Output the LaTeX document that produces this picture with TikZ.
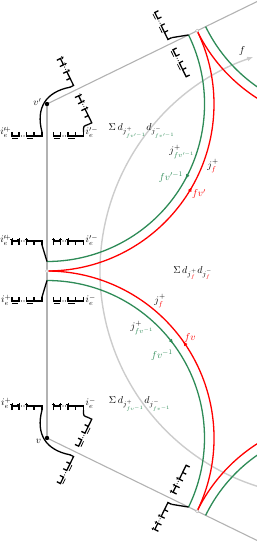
\documentclass[tikz,border=0pt]{standalone}
\usetikzlibrary{arrows.meta,decorations.markings}
\definecolor{grn}{RGB}{46,139,87}
\tikzset{
    every pic/.style={transform shape},
    combline/.style={black, line width=1.3pt},
    markline/.style={black, line width=0.7pt},
    redarc/.style={red, line width=1.3pt},
    grnarc/.style={grn, line width=1.3pt},
    frame/.style={gray!60, line width=1.1pt},
    fline/.style={gray!40, line width=1.4pt},
    midarrow/.style={postaction={decorate, decoration={markings,
        mark=at position #1 with {\arrow{Latex[length=5pt,width=4pt]}}}}},
    pics/combU/.style={code={
        \draw[combline] (0,4) |- (7,0) -- (7,4);
        \draw[combline] (14.5,4) |- (30,0) -- (30,4) (22,0) -- (22,4);
        \fill (9.5,0) circle (0.6) (12,0) circle (0.6);
        \draw[markline] (0.5,-2.3) -- (6.5,-2.3) (15,-2.3) -- (21.5,-2.3);
    }},
    pics/combP/.style={code={
        \draw[combline] (0,4) |- (7,0) -- (7,4);
        \draw[combline] (14.5,4) |- (30,0) -- (30,4) (22,0) -- (22,4);
        \fill (9.5,0) circle (0.6) (12,0) circle (0.6);
        \foreach \p in {0,7,14.5}
            \draw[markline] (\p,0) -- (\p,-3.5) (\p-1.5,-2) -- (\p+1.5,-2);
    }},
    pics/halfweb/.style 2 args={code={
        \pic at (-35,135) {#1};
        \pic at (6.5,135) {#1};
        \pic[yscale=-1] at (-35,30) {#2};
        \pic[yscale=-1] at (6.5,30) {#2};
        \draw[combline] (-5,26) -- (0,9.5);
        \draw[combline] (-5,139) .. controls (-11.4,163) and (-1.4,179) .. (23,183.8);
        \draw[combline] (36.5,139) .. controls (36.5,146) and (36.5,144.5) .. (41.2,146.5);
        \begin{scope}[shift={(0,167)}, cm={0.4384,-0.8988,-0.8988,-0.4384,(0,0)}]
            \pic at (-35,-32) {#2};
            \pic at (6.5,-32) {#2};
            \pic[yscale=-1] at (-35,-137) {#1};
            \pic[yscale=-1] at (6.5,-137) {#1};
            \draw[combline] (-5,-141) -- (0,-157.5);
        \end{scope}
    }},
}
\begin{document}
\begin{tikzpicture}[x=1pt, y=1pt, every node/.style={inner sep=1pt}]
    \clip (-47,-271) rectangle (210,271);
    \coordinate (c) at (0,0);
    \coordinate (vp) at (0,167);
    \coordinate (v) at (0,-167);
    \coordinate (j) at ([shift={(26:167)}]vp);
    \coordinate (jb) at ([shift={(-26:167)}]v);
    \coordinate (vpp) at ([shift={(26:334)}]vp);
    \coordinate (vb) at ([shift={(-26:334)}]v);
    \coordinate (fc) at (279,0);

    \draw[frame] (vp) -- (v);
    \draw[frame] (vp) -- ([shift={(26:260)}]vp);
    \draw[frame] (v) -- ([shift={(-26:260)}]v);
    \draw[fline, -{Latex[length=6pt,width=5pt]}] ([shift={(255:226)}]fc)
        arc[start angle=255, end angle=108.8, radius=226];

    \draw[redarc, midarrow=0.52] (c) arc[start angle=-90, end angle=26, radius=167];
    \draw[grnarc, midarrow=0.47] ([shift={(26:157.5)}]vp) arc[start angle=26, end angle=-90, radius=157.5];
    \draw[redarc, midarrow=0.53] (jb) arc[start angle=-26, end angle=90, radius=167];
    \draw[grnarc, midarrow=0.46] ([shift={(90:157.5)}]v) arc[start angle=90, end angle=-26, radius=157.5];
    \draw[redarc] (j) arc[start angle=206, end angle=245, radius=167];
    \draw[grnarc] ([shift={(206:157.5)}]vpp) arc[start angle=206, end angle=245, radius=157.5];
    \draw[redarc] (jb) arc[start angle=154, end angle=115, radius=167];
    \draw[grnarc] ([shift={(154:157.5)}]vb) arc[start angle=154, end angle=115, radius=157.5];

    \pic {halfweb={combU}{combP}};
    \pic[yscale=-1] {halfweb={combP}{combU}};
    \fill (vp) circle (2.2) (v) circle (2.2);
    \foreach \p in {c, j, jb}
        \draw[gray!50, fill=white, line width=0.5pt] (\p) circle (1.6);

    \node (f) at (195,220) {$f$};
    \node (lvp) at (-9.5,169) {$v'$};
    \node (lv) at (-8.5,-170) {$v$};
    \node[anchor=east, inner sep=0pt] (ivpa) at (-35.5,139) {$i^{\prime\!+}_{e}$};
    \node[anchor=west] (ivpb) at (37.5,139) {$i^{\prime -}_{e}$};
    \node[anchor=east, inner sep=0pt] (ica) at (-35.5,31) {$i^{\prime\!+}_{e}$};
    \node[anchor=west] (icb) at (37.5,31) {$i^{\prime -}_{e}$};
    \node[anchor=east, inner sep=0pt] (icc) at (-35.5,-29) {$i^{+}_{e}$};
    \node[anchor=west] (icd) at (37.5,-29) {$i^{-}_{e}$};
    \node[anchor=east, inner sep=0pt] (iva) at (-35.5,-132) {$i^{+}_{e}$};
    \node[anchor=west] (ivb) at (37.5,-132) {$i^{-}_{e}$};
    \node (sa) at (95,140) {$\Sigma\, d_{j^{+}_{\textcolor{grn}{fv^{\prime -1}}}} d_{j^{-}_{\textcolor{grn}{fv^{\prime -1}}}}$};
    \node (sb) at (146,-2) {$\Sigma\, d_{j^{+}_{\textcolor{red}{f}}} d_{j^{-}_{\textcolor{red}{f}}}$};
    \node (sc) at (93,-133) {$\Sigma\, d_{j^{+}_{\textcolor{grn}{fv^{-1}}}} d_{j^{-}_{\textcolor{grn}{fv^{-1}}}}$};
    \node (jga) at (135,119) {$j^{+}_{\textcolor{grn}{fv^{\prime -1}}}$};
    \node[text=grn] (ga) at (124,94) {$fv^{\prime -1}$};
    \node (jra) at (166,105) {$j^{+}_{\textcolor{red}{f}}$};
    \node[text=red] (ra) at (152,77) {$fv'$};
    \node (jrb) at (113,-30) {$j^{+}_{\textcolor{red}{f}}$};
    \node (jgb) at (95,-57) {$j^{+}_{\textcolor{grn}{fv^{-1}}}$};
    \node[text=red] (rb) at (143,-67) {$fv$};
    \node[text=grn] (gb) at (115,-84) {$fv^{-1}$};
\end{tikzpicture}
\end{document}
